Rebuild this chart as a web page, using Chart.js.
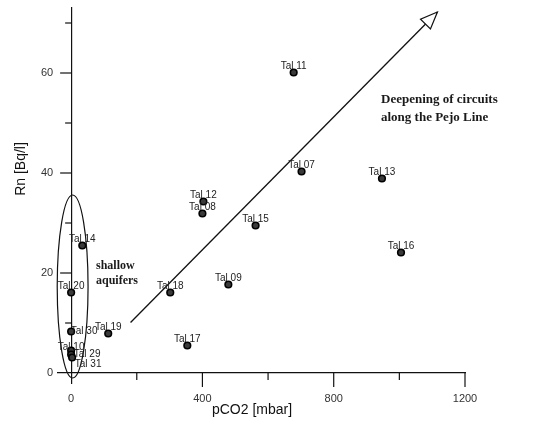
<!DOCTYPE html>
<html>
<head>
<meta charset="utf-8">
<script src="https://cdn.jsdelivr.net/npm/chart.js@4/dist/chart.umd.min.js"></script>
<style>
  html, body { margin: 0; padding: 0; background: #fff; }
  #wrap { width: 533px; height: 425px; position: relative; }
</style>
</head>
<body>
<div id="wrap"><canvas id="chart"></canvas></div>
<script>
// Dados
const sampleNames = ['Tal 11', 'Tal 07', 'Tal 13', 'Tal 16', 'Tal 12', 'Tal 08', 'Tal 15', 'Tal 09', 'Tal 18',
  'Tal 17', 'Tal 19', 'Tal 14', 'Tal 20', 'Tal 30', 'Tal 10', 'Tal 29', 'Tal 31'];
const pco2Values = [678, 702, 947, 1005, 403, 400, 562, 479, 302, 354, 113, 34, 0, 0, 0, 0, 3];
const rnValues = [60.1, 40.3, 38.9, 24.1, 34.3, 31.9, 29.5, 17.7, 16.1, 5.5, 7.9, 25.5, 16.1, 8.3, 4.5, 3.7, 3.1];

const xTickValues = [0, 200, 400, 600, 800, 1000, 1200];
const xTickLabels = ['0', '', '400', '', '800', '', '1200'];
const yTickValues = [0, 10, 20, 30, 40, 50, 60, 70];
const yTickLabels = ['0', '', '20', '', '40', '', '60', ''];

// Seta "Deepening of circuits" (início e ponta)
const arrowX = [181, 1116];
const arrowY = [10.1, 72.2];

// Elipse "shallow aquifers": centro e semi-eixos em unidades dos dados
const ellipseCenter = [4.6, 17.3];
const ellipseRadius = [47, 18.3];

// Deslocamentos especiais dos rótulos (px)
const labelShift = {
  'Tal 30': [13, 0],
  'Tal 29': [16, 0],
  'Tal 31': [16, 7],
  'Tal 10': [0, -3]
};

const annotationPlugin = {
  id: 'annotations',
  afterDatasetsDraw(chart) {
    const ctx = chart.ctx;
    const xs = chart.scales.x;
    const ys = chart.scales.y;
    const x0 = xs.getPixelForValue(0);
    const y0 = ys.getPixelForValue(0);

    ctx.save();
    ctx.strokeStyle = '#111';
    ctx.lineWidth = 1.2;

    // marcas e rótulos dos eixos
    ctx.fillStyle = '#333';
    ctx.font = '11px "Liberation Sans", Arial, sans-serif';
    ctx.textAlign = 'center';
    ctx.textBaseline = 'middle';
    xTickValues.forEach((v, i) => {
      const px = xs.getPixelForValue(v);
      if (v !== 0) {
        const len = xTickLabels[i] ? 14 : 7;
        ctx.beginPath();
        ctx.moveTo(px, y0);
        ctx.lineTo(px, y0 + len);
        ctx.stroke();
      }
      if (xTickLabels[i]) ctx.fillText(xTickLabels[i], px, y0 + 26);
    });
    ctx.textAlign = 'right';
    yTickValues.forEach((v, i) => {
      const py = ys.getPixelForValue(v);
      if (v !== 0) {
        const len = yTickLabels[i] ? 11 : 6;
        ctx.beginPath();
        ctx.moveTo(x0, py);
        ctx.lineTo(x0 - len, py);
        ctx.stroke();
      }
      if (yTickLabels[i]) ctx.fillText(yTickLabels[i], x0 - 18, py);
    });

    // elipse
    const ecx = xs.getPixelForValue(ellipseCenter[0]);
    const ecy = ys.getPixelForValue(ellipseCenter[1]);
    const erx = Math.abs(xs.getPixelForValue(ellipseCenter[0] + ellipseRadius[0]) - ecx);
    const ery = Math.abs(ys.getPixelForValue(ellipseCenter[1] + ellipseRadius[1]) - ecy);
    ctx.beginPath();
    ctx.ellipse(ecx, ecy, erx, ery, 0, 0, Math.PI * 2);
    ctx.stroke();

    // ponta da seta (triângulo vazado)
    const meta = chart.getDatasetMeta(1);
    const p1 = meta.data[0];
    const p2 = meta.data[1];
    const ang = Math.atan2(p2.y - p1.y, p2.x - p1.x);
    const headLen = 17;
    const headW = 7;
    const bx = p2.x - headLen * Math.cos(ang);
    const by = p2.y - headLen * Math.sin(ang);
    ctx.beginPath();
    ctx.moveTo(p2.x, p2.y);
    ctx.lineTo(bx + headW * Math.sin(ang), by - headW * Math.cos(ang));
    ctx.lineTo(bx - headW * Math.sin(ang), by + headW * Math.cos(ang));
    ctx.closePath();
    ctx.fillStyle = '#fff';
    ctx.fill();
    ctx.stroke();

    // rótulos das amostras
    ctx.fillStyle = '#222';
    ctx.font = '10px "Liberation Sans", Arial, sans-serif';
    ctx.textAlign = 'center';
    const pts = chart.getDatasetMeta(0).data;
    sampleNames.forEach((name, i) => {
      const shift = labelShift[name] || [0, -6];
      ctx.fillText(name, pts[i].x + shift[0], pts[i].y + shift[1]);
    });

    // textos em negrito serifado
    ctx.fillStyle = '#1a1a1a';
    ctx.textAlign = 'left';
    ctx.font = 'bold 13px "Liberation Serif", "Times New Roman", serif';
    ctx.fillText('Deepening of circuits', 381, 100);
    ctx.fillText('along the Pejo Line', 381, 118);
    ctx.font = 'bold 12px "Liberation Serif", "Times New Roman", serif';
    ctx.fillText('shallow', 96, 266);
    ctx.fillText('aquifers', 96, 281);

    // títulos dos eixos
    ctx.fillStyle = '#111';
    ctx.font = '14px "Liberation Sans", Arial, sans-serif';
    ctx.textAlign = 'center';
    ctx.fillText('pCO2 [mbar]', 252, 410);
    ctx.translate(21, 169);
    ctx.rotate(-Math.PI / 2);
    ctx.fillText('Rn [Bq/l]', 0, 0);
    ctx.restore();
  }
};

const ctx = document.getElementById('chart');
new Chart(ctx, {
  type: 'scatter',
  data: {
    datasets: [
      {
        label: 'Samples',
        data: pco2Values.map((v, i) => ({ x: v, y: rnValues[i] })),
        pointRadius: 3.3,
        pointBackgroundColor: '#3a3a3a',
        pointBorderColor: '#000',
        pointBorderWidth: 1.6
      },
      {
        label: 'Arrow',
        type: 'line',
        data: arrowX.map((v, i) => ({ x: v, y: arrowY[i] })),
        borderColor: '#111',
        borderWidth: 1.3,
        pointRadius: 0,
        fill: false
      }
    ]
  },
  options: {
    responsive: true,
    maintainAspectRatio: false,
    animation: false,
    events: [],
    layout: { padding: { left: 58, right: 68, top: 8, bottom: 42 } },
    plugins: {
      legend: { display: false },
      tooltip: { enabled: false }
    },
    scales: {
      x: {
        type: 'linear',
        min: -40,
        max: 1200,
        position: { y: 0 },
        afterBuildTicks: axis => { axis.ticks = xTickValues.map(v => ({ value: v })); },
        grid: { display: false },
        border: { display: true, color: '#111', width: 1.2 },
        ticks: { display: false }
      },
      y: {
        type: 'linear',
        min: -2,
        max: 73,
        position: { x: 0 },
        afterBuildTicks: axis => { axis.ticks = yTickValues.map(v => ({ value: v })); },
        grid: { display: false },
        border: { display: true, color: '#111', width: 1.2 },
        ticks: { display: false }
      }
    }
  },
  plugins: [annotationPlugin]
});
</script>
</body>
</html>
